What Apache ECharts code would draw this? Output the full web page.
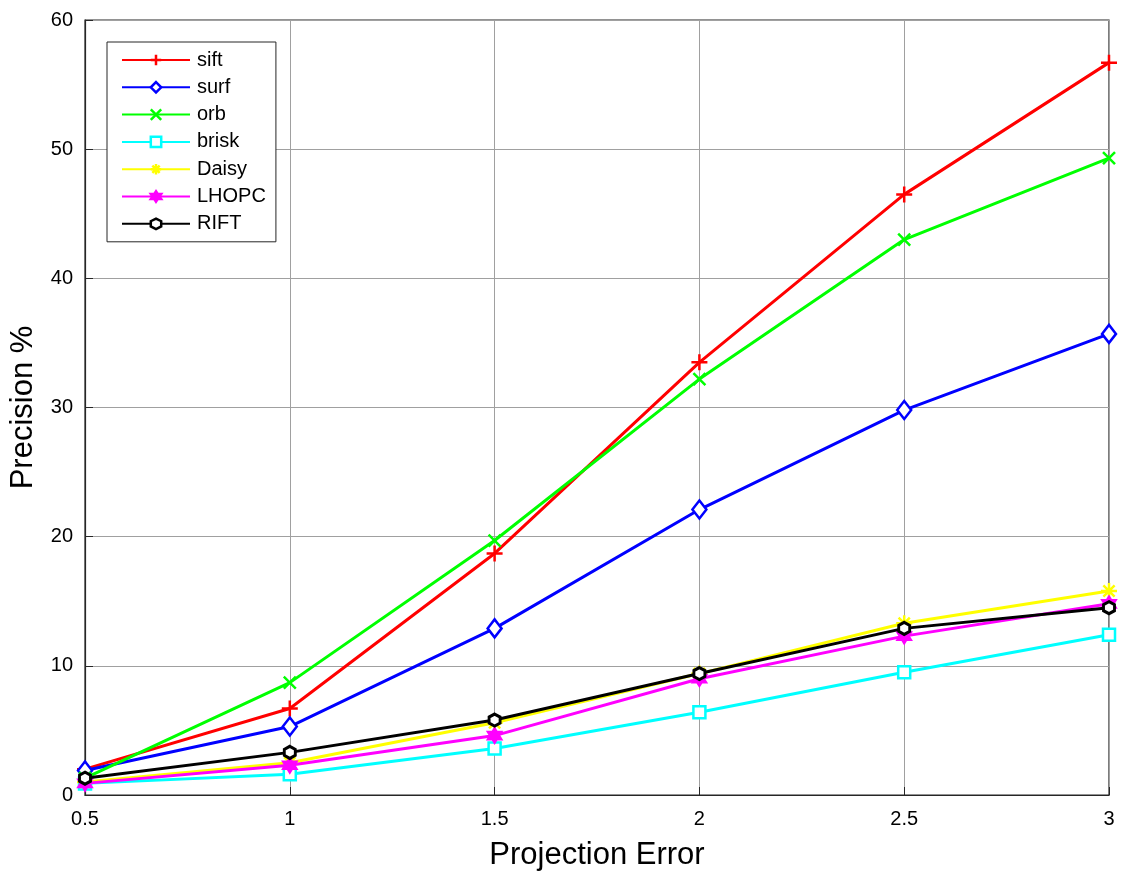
<!DOCTYPE html>
<html>
<head>
<meta charset="utf-8">
<script src="https://cdn.jsdelivr.net/npm/echarts@6/dist/echarts.min.js"></script>
<style>html,body{margin:0;padding:0;background:#fff;}#c{width:1125px;height:874px;}</style>
</head>
<body>
<div id="c"></div>
<script>
var xValues = [0.5, 1, 1.5, 2, 2.5, 3];
var seriesNames = ['sift', 'surf', 'orb', 'brisk', 'Daisy', 'LHOPC', 'RIFT'];
var sift  = [2.0, 6.7, 18.7, 33.5, 46.5, 56.7];
var surf  = [1.9, 5.3, 12.9, 22.1, 29.8, 35.7];
var orb   = [1.3, 8.7, 19.7, 32.2, 43.0, 49.3];
var brisk = [0.9, 1.6, 3.6, 6.4, 9.5, 12.4];
var daisy = [1.0, 2.5, 5.6, 9.4, 13.3, 15.8];
var lhopc = [0.9, 2.3, 4.6, 9.0, 12.3, 14.8];
var rift  = [1.3, 3.3, 5.8, 9.4, 12.9, 14.5];
var yTicks = [0, 10, 20, 30, 40, 50, 60];

var allData = [sift, surf, orb, brisk, daisy, lhopc, rift];
var colors = ['#ff0000', '#0000ff', '#00ff00', '#00ffff', '#ffff00', '#ff00ff', '#000000'];
var symbols = [
  'path://M0,-1L0,1M-1,0L1,0',
  'path://M0,-1L0.7,0L0,1L-0.7,0Z',
  'path://M-1,-1L1,1M-1,1L1,-1',
  'path://M-1,-1L1,-1L1,1L-1,1Z',
  'path://M0,-1L0,1M-1,0L1,0M-0.7,-0.7L0.7,0.7M-0.7,0.7L0.7,-0.7',
  'path://M0,-1L0.289,-0.5L0.866,-0.5L0.577,0L0.866,0.5L0.289,0.5L0,1L-0.289,0.5L-0.866,0.5L-0.577,0L-0.866,-0.5L-0.289,-0.5Z',
  'path://M0,-1L0.866,-0.5L0.866,0.5L0,1L-0.866,0.5L-0.866,-0.5Z'
];
var symSizes = [[16,16],[14,18],[12,12],[12,12],[16,16],[13,14],[11,12]];
var fills = ['none','#fff','none','#fff','none','#ff00ff','#fff'];
var bw = [2.5,2.5,2.5,2.5,2.5,2.5,3];

var series = seriesNames.map(function(n, i){
  return {
    name: n,
    type: 'line',
    data: xValues.map(function(x, j){ return [x, allData[i][j]]; }),
    symbol: symbols[i],
    symbolSize: symSizes[i],
    showAllSymbol: true,
    lineStyle: { color: colors[i], width: 3 },
    itemStyle: { color: fills[i] === 'none' ? colors[i] : fills[i], borderColor: colors[i], borderWidth: bw[i] },
    emphasis: { disabled: true },
    z: 3 + i
  };
});

var chart = echarts.init(document.getElementById('c'), null, { renderer: 'canvas' });
chart.setOption({
  animation: false,
  backgroundColor: '#fff',
  grid: { left: 85, right: 16, top: 20, bottom: 79, show: true, borderColor: '#262626', borderWidth: 1.2,
    containLabel: false, outerBoundsMode: 'none' },
  legend: {
    orient: 'vertical', left: 107, top: 42,
    padding: [8, 10, 8, 14],
    itemGap: 7.3,
    itemWidth: 68, itemHeight: 13,
    backgroundColor: '#fff',
    borderColor: '#262626', borderWidth: 1,
    textStyle: { fontFamily: 'Liberation Sans, Arial', fontSize: 20, color: '#000', padding: [0, 0, 0, 2] },
    data: seriesNames.map(function(n, i){ return { name: n, itemStyle: { color: fills[i] === 'none' ? colors[i] : fills[i], borderColor: colors[i], borderWidth: 2.5 } }; })
  },
  xAxis: {
    type: 'value', min: 0.5, max: 3, interval: 0.5,
    name: 'Projection Error', nameLocation: 'middle', nameGap: 45,
    nameTextStyle: { fontFamily: 'Liberation Sans, Arial', fontSize: 31, color: '#000' },
    axisLine: { show: true, lineStyle: { color: '#262626', width: 1.2 } },
    axisTick: { show: true, inside: true, length: 8, lineStyle: { color: '#262626' } },
    axisLabel: { fontFamily: 'Liberation Sans, Arial', fontSize: 20, color: '#000', margin: 14 },
    splitLine: { show: true, lineStyle: { color: '#a0a0a0', width: 1 } }
  },
  yAxis: {
    type: 'value', min: 0, max: 60, interval: 10,
    name: 'Precision %', nameLocation: 'middle', nameGap: 46,
    nameTextStyle: { fontFamily: 'Liberation Sans, Arial', fontSize: 31, color: '#000' },
    axisLine: { show: true, lineStyle: { color: '#262626', width: 1.2 } },
    axisTick: { show: true, inside: true, length: 8, lineStyle: { color: '#262626' } },
    axisLabel: { fontFamily: 'Liberation Sans, Arial', fontSize: 20, color: '#000', margin: 12,
      formatter: function(v){ return yTicks.indexOf(v) >= 0 ? String(v) : ''; } },
    splitLine: { show: true, lineStyle: { color: '#a0a0a0', width: 1 } }
  },
  series: series
});
</script>
</body>
</html>
